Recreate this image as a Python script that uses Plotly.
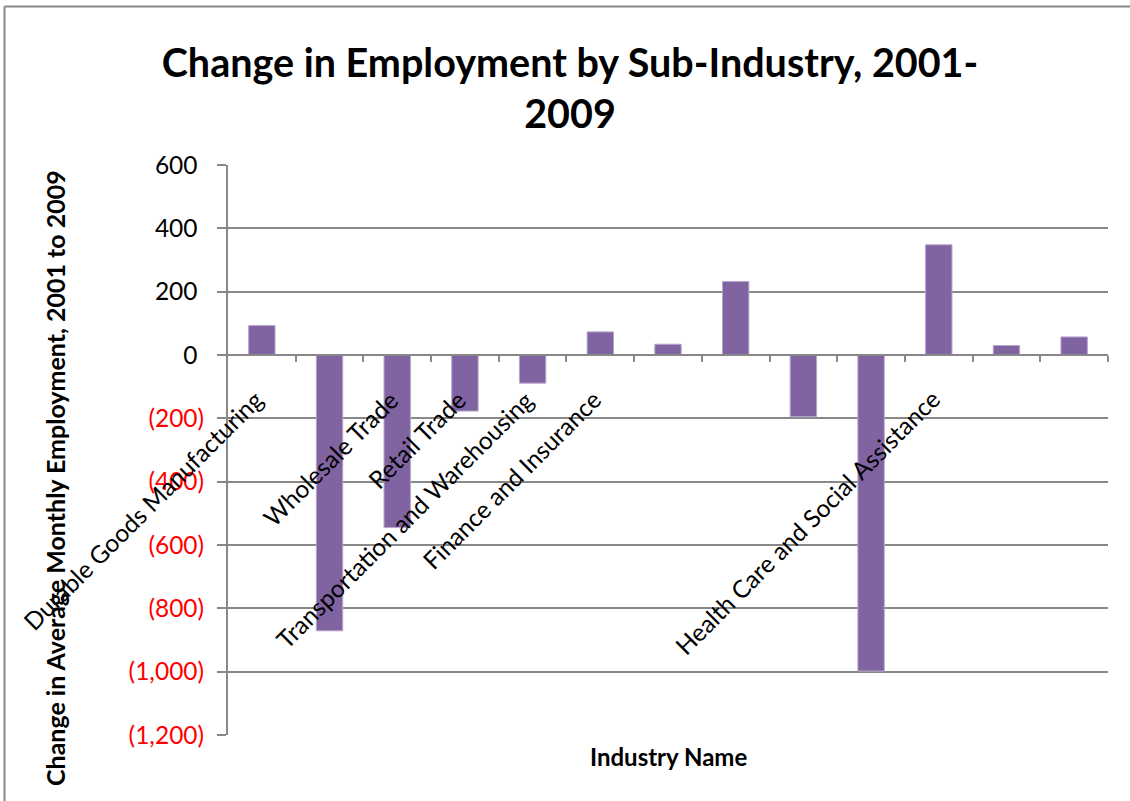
import plotly.graph_objects as go

# Sub-industry change in average monthly employment, 2001 -> 2009 (thousands)
industries = [
    "Durable Goods Manufacturing", "", "Wholesale Trade", "Retail Trade",
    "Transportation and Warehousing", "Finance and Insurance", "", "", "",
    "", "Health Care and Social Assistance", "", "",
]
change = [93, -871, -545, -177, -89, 73, 34, 232, -195, -998, 348, 30, 57]

y_ticks = [600, 400, 200, 0, -200, -400, -600, -800, -1000, -1200]

FONT = "Lato"
GRID = "#888888"
BAR = "#8064A2"

positions = list(range(1, len(change) + 1))


def fmt(v):
    # accounting style: negatives in red parentheses, positives padded
    if v < 0:
        return f'<span style="color:#FF0000">({abs(v):,})</span>'
    return f'{v:,}<span style="color:rgba(0,0,0,0)">)</span>'


W, H = 1130, 801
L, R, T, B = 228, 22, 165, 66
pw, ph = W - L - R, H - T - B

fig = go.Figure()
fig.add_trace(go.Bar(
    x=positions,
    y=change,
    width=0.39,
    marker=dict(color=BAR, line=dict(color="#B7A7CD", width=1)),
    hovertemplate="%{y}<extra></extra>",
))

# Category labels hang below the zero line, rotated 45 degrees
for pos, name in zip(positions, industries):
    if not name:
        continue
    fig.add_annotation(
        x=pos, y=0, xref="x", yref="y",
        text=name, textangle=-45, showarrow=False,
        xanchor="right", yanchor="top",
        xshift=9, yshift=-27,
        font=dict(family=FONT, size=24.5, color="#000000"),
    )

# Axis titles
fig.add_annotation(
    x=(55 - L) / pw, y=(H - B - 478) / ph, xref="paper", yref="paper",
    xanchor="center", yanchor="middle",
    text="<b>Change in Average Monthly Employment, 2001 to 2009</b>",
    textangle=-90, showarrow=False,
    font=dict(family=FONT, size=25, color="#000000"),
)
fig.add_annotation(
    x=0.5, y=0, xref="paper", yref="paper",
    text="<b>Industry Name</b>", showarrow=False,
    yanchor="top", yshift=-5,
    font=dict(family=FONT, size=24, color="#000000"),
)

# Outer chart frame (top and left edges)
fig.add_shape(type="line", xref="paper", yref="paper",
              x0=(4.5 - L) / pw, x1=(W - L) / pw,
              y0=(H - B - 6.5) / ph, y1=(H - B - 6.5) / ph,
              line=dict(color=GRID, width=2))
fig.add_shape(type="line", xref="paper", yref="paper",
              x0=(4.5 - L) / pw, x1=(4.5 - L) / pw,
              y0=(H - B - 6.5) / ph, y1=(H - B - H) / ph,
              line=dict(color=GRID, width=2))

fig.update_layout(
    width=W, height=H,
    margin=dict(l=L, r=R, t=T, b=B),
    paper_bgcolor="white", plot_bgcolor="white",
    showlegend=False,
    title=dict(
        text="<b>Change in Employment by Sub-Industry, 2001-<br>2009</b>",
        x=570 / W, xref="container", xanchor="center",
        y=1 - 77 / H, yref="container", yanchor="top",
        font=dict(family=FONT, size=39.5, color="#000000"),
    ),
    xaxis=dict(
        range=[0.5, len(change) + 0.5],
        anchor="free", position=2 / 3,
        showline=True, linecolor=GRID, linewidth=2,
        tickvals=[p + 0.5 for p in positions],
        ticks="outside", ticklen=6, tickcolor=GRID, tickwidth=1.5,
        showticklabels=False, showgrid=False, zeroline=False,
        fixedrange=True,
    ),
    yaxis=dict(
        range=[-1200, 600],
        tickvals=y_ticks, ticktext=[fmt(v) for v in y_ticks],
        tickfont=dict(family=FONT, size=24.5, color="#000000"),
        showline=True, linecolor=GRID, linewidth=2,
        ticks="outside", ticklen=9, tickcolor=GRID, tickwidth=1.5,
        showgrid=True, gridcolor=GRID, gridwidth=1.5,
        zeroline=False, ticklabelstandoff=8,
        fixedrange=True,
    ),
)

fig.write_html("out.html")
